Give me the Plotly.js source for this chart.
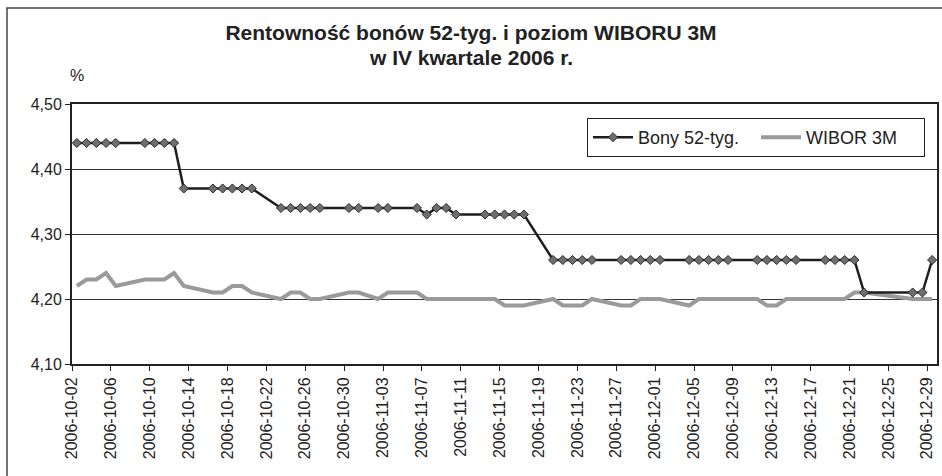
<!DOCTYPE html>
<html>
<head>
<meta charset="utf-8">
<script src="https://cdn.plot.ly/plotly-3.0.1.min.js"></script>
<style>
html,body{margin:0;padding:0;background:#fff;}
#chart{width:942px;height:476px;}
</style>
</head>
<body>
<div id="chart"></div>
<script>
// Business days (data at noon so markers sit between day ticks)
const dates = [
  "2006-10-02","2006-10-03","2006-10-04","2006-10-05","2006-10-06",
  "2006-10-09","2006-10-10","2006-10-11","2006-10-12","2006-10-13",
  "2006-10-16","2006-10-17","2006-10-18","2006-10-19","2006-10-20",
  "2006-10-23","2006-10-24","2006-10-25","2006-10-26","2006-10-27",
  "2006-10-30","2006-10-31","2006-11-02","2006-11-03",
  "2006-11-06","2006-11-07","2006-11-08","2006-11-09","2006-11-10",
  "2006-11-13","2006-11-14","2006-11-15","2006-11-16","2006-11-17",
  "2006-11-20","2006-11-21","2006-11-22","2006-11-23","2006-11-24",
  "2006-11-27","2006-11-28","2006-11-29","2006-11-30","2006-12-01",
  "2006-12-04","2006-12-05","2006-12-06","2006-12-07","2006-12-08",
  "2006-12-11","2006-12-12","2006-12-13","2006-12-14","2006-12-15",
  "2006-12-18","2006-12-19","2006-12-20","2006-12-21","2006-12-22",
  "2006-12-27","2006-12-28","2006-12-29"
];
const bony = [
  4.44,4.44,4.44,4.44,4.44,
  4.44,4.44,4.44,4.44,4.37,
  4.37,4.37,4.37,4.37,4.37,
  4.34,4.34,4.34,4.34,4.34,
  4.34,4.34,4.34,4.34,
  4.34,4.33,4.34,4.34,4.33,
  4.33,4.33,4.33,4.33,4.33,
  4.26,4.26,4.26,4.26,4.26,
  4.26,4.26,4.26,4.26,4.26,
  4.26,4.26,4.26,4.26,4.26,
  4.26,4.26,4.26,4.26,4.26,
  4.26,4.26,4.26,4.26,4.21,
  4.21,4.21,4.26
];
const wibor = [
  4.22,4.23,4.23,4.24,4.22,
  4.23,4.23,4.23,4.24,4.22,
  4.21,4.21,4.22,4.22,4.21,
  4.20,4.21,4.21,4.20,4.20,
  4.21,4.21,4.20,4.21,
  4.21,4.20,4.20,4.20,4.20,
  4.20,4.20,4.19,4.19,4.19,
  4.20,4.19,4.19,4.19,4.20,
  4.19,4.19,4.20,4.20,4.20,
  4.19,4.20,4.20,4.20,4.20,
  4.20,4.19,4.19,4.20,4.20,
  4.20,4.20,4.20,4.21,4.21,
  4.20,4.20,4.20
];
const seriesNames = ["Bony 52-tyg.", "WIBOR 3M"];
const yTicks = [4.10, 4.20, 4.30, 4.40, 4.50];
const titleLines = ["Rentowność bonów 52-tyg. i poziom WIBORU 3M", "w IV kwartale 2006 r."];

const xNoon = dates.map(d => d + " 12:00");

const FONT = "Liberation Sans, Arial, sans-serif";

const traces = [
  {
    x: xNoon, y: bony, name: seriesNames[0], type: "scatter", mode: "lines+markers",
    line: {color: "#1e1e1e", width: 2.5},
    marker: {symbol: "diamond", size: 7, color: "#6e6e6e", line: {color: "#2a2a2a", width: 1}}
  },
  {
    x: xNoon, y: wibor, name: seriesNames[1], type: "scatter", mode: "lines",
    line: {color: "#9a9a9a", width: 4}
  }
];
const data = [traces[1], traces[0]];

const L = 72, R = 5, T = 104, B = 112, W = 942, H = 476;
const pw = W - L - R, ph = H - T - B;
const px = v => (v - L) / pw;
const py = v => 1 - (v - T) / ph;

const layout = {
  width: W, height: H,
  margin: {l: L, r: R, t: T, b: B, autoexpand: false},
  paper_bgcolor: "#fff", plot_bgcolor: "#fff",
  separators: ", ",
  font: {family: FONT, color: "#222", size: 16},
  title: {
    text: "<b>" + titleLines[0] + "</b>",
    font: {family: FONT, size: 21, color: "#222"},
    x: 0.5, xref: "container", y: 1 - 33 / H, yref: "container", yanchor: "middle"
  },
  showlegend: true,
  legend: {
    orientation: "h", traceorder: "reversed",
    x: px(587), y: py(118), xanchor: "left", yanchor: "top",
    bordercolor: "#222", borderwidth: 1, bgcolor: "#fff",
    font: {family: FONT, size: 18, color: "#222"},
    entrywidth: 113, itemwidth: 40
  },
  xaxis: {
    type: "date",
    range: ["2006-10-02", "2006-12-30"],
    tick0: "2006-10-02", dtick: 4 * 86400000,
    tickformat: "%Y-%m-%d", tickangle: -90,
    ticks: "outside", ticklen: 5, tickcolor: "#222", tickwidth: 1,
    showline: true, linecolor: "#222", linewidth: 2, mirror: true,
    showgrid: false, zeroline: false,
    tickfont: {family: FONT, size: 16, color: "#222"}
  },
  yaxis: {
    range: [4.10, 4.50],
    tickvals: yTicks, tickformat: ".2f",
    ticks: "outside", ticklen: 5, tickcolor: "#222", tickwidth: 1,
    showline: true, linecolor: "#222", linewidth: 2, mirror: true,
    showgrid: true, gridcolor: "#333", gridwidth: 1, zeroline: false,
    tickfont: {family: FONT, size: 16, color: "#222"}
  },
  annotations: [
    {text: "<b>" + titleLines[1] + "</b>", xref: "paper", yref: "paper",
     x: px(471), y: py(58), xanchor: "center", yanchor: "middle", showarrow: false,
     font: {family: FONT, size: 21, color: "#222"}},
    {text: "%", xref: "paper", yref: "paper", x: px(68), y: py(76),
     xanchor: "left", yanchor: "middle", showarrow: false,
     font: {family: FONT, size: 16, color: "#222"}}
  ],
  shapes: [
    {type: "rect", xref: "paper", yref: "paper",
     x0: px(7), x1: px(948), y0: py(482), y1: py(8),
     line: {color: "#444", width: 1.5}, fillcolor: "rgba(0,0,0,0)", layer: "below"}
  ]
};

Plotly.newPlot("chart", data, layout, {displayModeBar: false, staticPlot: true});
</script>
</body>
</html>
